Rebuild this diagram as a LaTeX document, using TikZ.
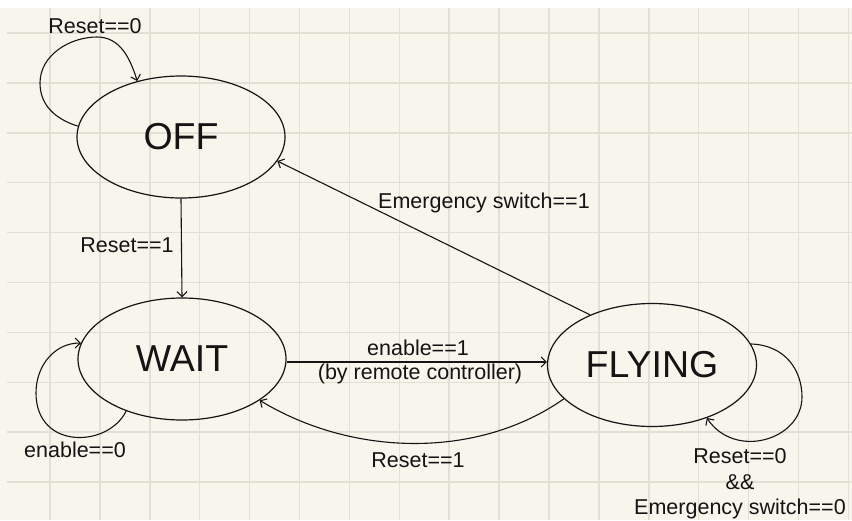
\documentclass[tikz,border=0pt]{standalone}
\usepackage{fontspec}
\setmainfont{Liberation Sans}
\usetikzlibrary{arrows.meta,shapes.geometric}
\definecolor{paper}{RGB}{248,245,236}
\definecolor{gridc}{RGB}{226,223,213}
\definecolor{ink}{RGB}{20,20,20}
\begin{document}
\begin{tikzpicture}[x=1pt,y=-1pt,
  state/.style={ellipse,draw=ink,line width=1.2pt,minimum width=208pt,minimum height=122pt,inner sep=0pt,font=\fontsize{37.5}{40}\selectfont,text=ink},
  lbl/.style={anchor=base,font=\fontsize{21.5}{25.5}\selectfont,text=ink,inner sep=0pt},
  conn/.style={draw=ink,line width=1.1pt,-{Straight Barb[length=5pt,width=10pt]}},
  gridline/.style={draw=gridc,line width=1.5pt}]
\useasboundingbox (0,0) rectangle (852,520);
\fill[paper] (0,0) rectangle (852,520);
\fill[white] (0,0) rectangle (852,8);
\foreach \i in {0,...,16} \draw[gridline] ({50+49.9*\i},8) -- ({50+49.9*\i},520);
\foreach \j in {0,...,9} \draw[gridline] (7,{33+49.9*\j}) -- (852,{33+49.9*\j});

\node[state] (off) at (181,137) {OFF};
\node[state] (wait) at (182,359) {WAIT};
\node[state,minimum width=209pt,minimum height=123pt] (fly) at (652,365) {FLYING};

\draw[conn] (off.174) .. controls (55,119) and (40,105) .. (40,83) .. controls (40,55) and (70,37) .. (97,37) .. controls (120,37) and (130,58) .. (off.128);
\draw[conn] (off.south) -- (wait.north);
\draw[conn] (wait.223) .. controls (108,448) and (36,450) .. (36,393) .. controls (36,365) and (55,343) .. (wait.171);
\draw[conn] ([yshift=-3pt]wait.east) -- ([yshift=3pt]fly.west);
\draw[conn] (fly.201) .. controls (480,458) and (355,458) .. (wait.332);
\draw[conn] (fly.141) -- (off.346);
\draw[conn] (fly.12) .. controls (785,345) and (802,370) .. (802,397) .. controls (802,440) and (735,460) .. (fly.316);

\node[lbl] (l1) at (95,33) {Reset==0};
\node[lbl] (l2) at (127,252) {Reset==1};
\node[lbl] (l3) at (75,457) {enable==0};
\node[lbl] (l4) at (484,208) {Emergency switch==1};
\node[lbl] (l5) at (418,355) {enable==1};
\node[lbl] (l6) at (420,379) {(by remote controller)};
\node[lbl] (l7) at (418,467) {Reset==1};
\node[lbl] (l8) at (740,463) {Reset==0};
\node[lbl] (l9) at (740,489) {\&\&};
\node[lbl] (l10) at (740,514) {Emergency switch==0};
\end{tikzpicture}
\end{document}
